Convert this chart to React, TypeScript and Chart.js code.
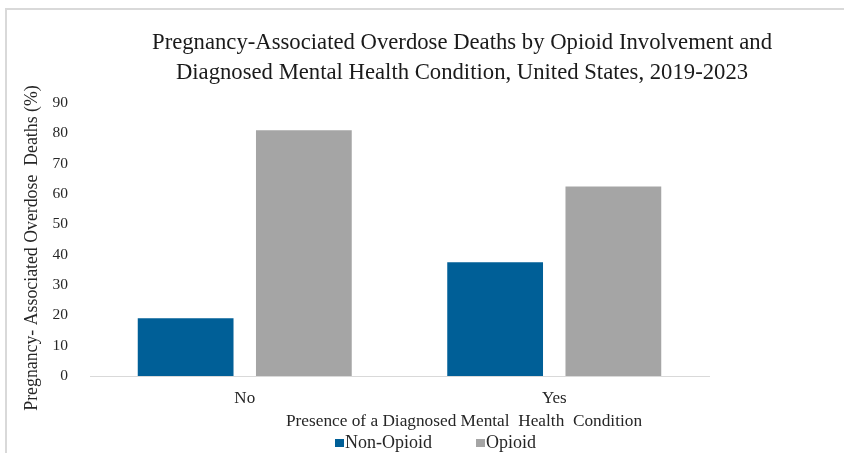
import React, { useEffect, useRef } from 'react';
import { Chart, registerables } from 'chart.js';

Chart.register(...registerables);

const categories = ['No', 'Yes'];
const seriesNames = ['Non-Opioid', 'Opioid'];
const nonOpioidValues = [19.0, 37.5];
const opioidValues = [81.0, 62.5];
const seriesColors = ['#005F97', '#A5A5A5'];
const yMin = 0;
const yMax = 90;
const yStep = 10;
const titleLines = [
  'Pregnancy-Associated Overdose Deaths by Opioid Involvement and',
  'Diagnosed Mental Health Condition, United States, 2019-2023',
];
const xAxisTitle = 'Presence of a Diagnosed Mental  Health  Condition';
const yAxisTitle = 'Pregnancy- Associated Overdose  Deaths (%)';

const SERIF = "'Liberation Serif', 'Times New Roman', serif";
const TEXT = '#262626';

const framePlugin = {
  id: 'frame',
  beforeDraw(chart: any) {
    const { ctx, width, height } = chart;
    ctx.save();
    ctx.fillStyle = '#fff';
    ctx.fillRect(0, 0, width, height);
    ctx.fillStyle = '#D9D9D9';
    ctx.fillRect(5, 8, width - 5, 2);
    ctx.fillRect(5, 8, 2, height - 8);
    ctx.restore();
  },
};

const decorPlugin = {
  id: 'decor',
  afterDraw(chart: any) {
    const { ctx, chartArea } = chart;
    ctx.save();
    // Title
    ctx.fillStyle = '#1a1a1a';
    ctx.font = `22.7px ${SERIF}`;
    ctx.textAlign = 'center';
    ctx.textBaseline = 'middle';
    const tx = 462;
    ctx.fillText(titleLines[0], tx, 43);
    ctx.fillText(titleLines[1], tx, 73);
    // X axis title
    ctx.fillStyle = TEXT;
    ctx.font = `17.3px ${SERIF}`;
    ctx.fillText(xAxisTitle, 464, chartArea.bottom + 45);
    // Y axis title
    ctx.save();
    ctx.translate(32, 248);
    ctx.rotate(-Math.PI / 2);
    ctx.font = `17.8px ${SERIF}`;
    ctx.fillText(yAxisTitle, 0, 0);
    ctx.restore();
    // Legend
    const ly = chartArea.bottom + 67;
    ctx.textAlign = 'left';
    ctx.font = `18px ${SERIF}`;
    const items = chart.data.datasets.map((d: any) => ({ label: d.label, color: d.backgroundColor }));
    const starts = [335, 476];
    items.forEach((it: any, i: number) => {
      const x = starts[i];
      ctx.fillStyle = it.color;
      ctx.fillRect(x, ly - 4, 9, 8);
      ctx.fillStyle = TEXT;
      ctx.fillText(it.label, x + 10, ly);
    });
    ctx.restore();
  },
};

export default function App() {
  const ref = useRef<HTMLCanvasElement | null>(null);
  useEffect(() => {
    if (!ref.current) return;
    const chart = new Chart(ref.current, {
      type: 'bar',
      data: {
        labels: categories,
        datasets: [
          {
            label: seriesNames[0],
            data: nonOpioidValues,
            backgroundColor: seriesColors[0],
            categoryPercentage: 0.764,
            barPercentage: 0.81,
          },
          {
            label: seriesNames[1],
            data: opioidValues,
            backgroundColor: seriesColors[1],
            categoryPercentage: 0.764,
            barPercentage: 0.81,
          },
        ],
      },
      options: {
        responsive: false,
        animation: false,
        devicePixelRatio: 1,
        layout: { padding: { top: 103, right: 135, bottom: 0, left: 0 } },
        plugins: {
          legend: { display: false },
          title: { display: false },
          tooltip: { enabled: false },
        },
        scales: {
          x: {
            grid: { display: false, drawTicks: false },
            border: { display: true, color: '#D9D9D9', width: 1 },
            ticks: { color: TEXT, font: { family: SERIF, size: 17 }, padding: 12 },
            afterFit: (s: any) => {
              s.height = 77;
            },
          },
          y: {
            min: yMin,
            max: yMax,
            grid: { display: false, drawTicks: false },
            border: { display: false },
            ticks: { stepSize: yStep, color: TEXT, font: { family: SERIF, size: 15.5 }, padding: 22 },
            title: { display: false },
            afterFit: (s: any) => {
              s.width = 90;
            },
          },
        },
      },
      plugins: [framePlugin, decorPlugin],
    });
    return () => chart.destroy();
  }, []);

  return (
    <div style={{ position: 'fixed', left: 0, top: 0, width: 844, height: 453, background: '#fff', overflow: 'hidden' }}>
      <canvas ref={ref} width={844} height={453} style={{ position: 'absolute', left: 0, top: 0 }} />
    </div>
  );
}
